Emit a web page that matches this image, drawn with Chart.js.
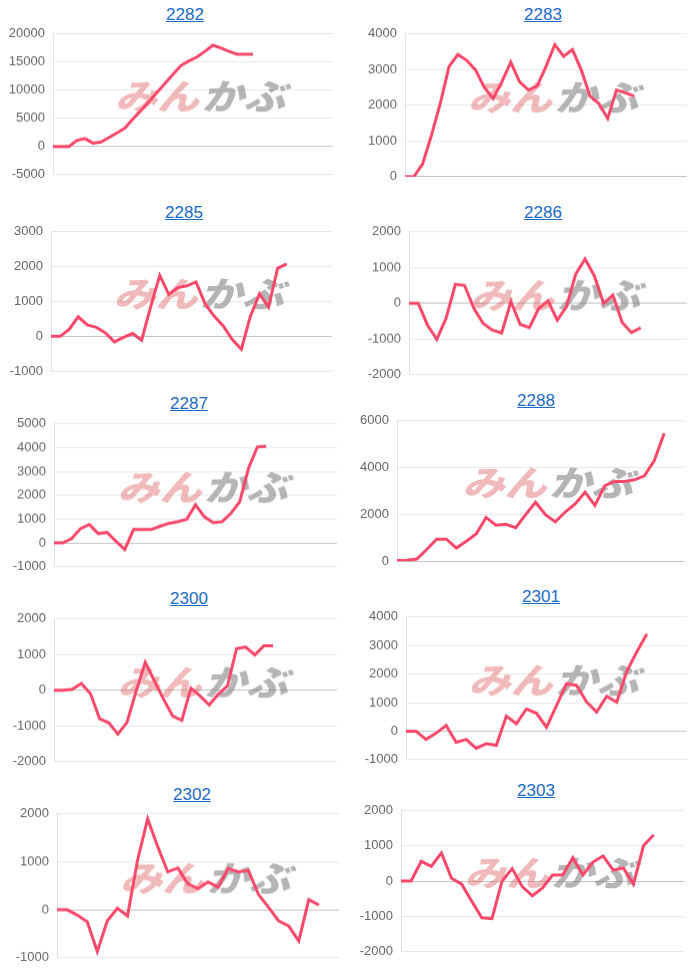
<!DOCTYPE html>
<html>
<head>
<meta charset="utf-8">
<script src="https://cdn.jsdelivr.net/npm/chart.js@4.4.1/dist/chart.umd.min.js"></script>
<style>
  body { margin: 0; background: #fff; width: 700px; height: 971px; position: relative; overflow: hidden;
         font-family: "Liberation Sans", Arial, sans-serif; }
  .title { position: absolute; transform: translate(-50%, -50%); color: #1a6ac9;
           text-decoration: underline; font-size: 17px; white-space: nowrap; }
  canvas { position: absolute; }
</style>
</head>
<body>
<script>
// ---------------- DATA ----------------

const codes = ["2282", "2283", "2285", "2286", "2287", "2288", "2300", "2301", "2302", "2303"];

const s2282 = [0, 0, 0, 1100, 1400, 600, 800, 1600, 2400, 3300, 4900, 6400, 8000, 9600, 11200, 12800, 14400, 15200, 15900, 16900, 18000, 17500, 16900, 16400, 16400, 16400];
const s2283 = [0, 0, 360, 1160, 2050, 3090, 3420, 3260, 2990, 2500, 2190, 2660, 3210, 2660, 2430, 2540, 3090, 3700, 3370, 3560, 2990, 2260, 2050, 1630, 2430, 2350, 2260];
const s2285 = [0, 0, 200, 560, 330, 260, 100, -160, -30, 80, -110, 850, 1750, 1200, 1400, 1450, 1560, 930, 580, 300, -90, -370, 580, 1220, 840, 1950, 2080];
const s2286 = [0, 0, -610, -1010, -420, 535, 500, -140, -560, -750, -830, 50, -590, -680, -140, 70, -470, -90, 820, 1240, 770, 0, 230, -535, -820, -685];
const s2287 = [0, 0, 180, 600, 770, 390, 440, 70, -280, 560, 560, 560, 700, 820, 890, 990, 1600, 1100, 850, 890, 1240, 1730, 3140, 4030, 4060];
const s2288 = [30, 40, 90, 500, 940, 940, 560, 850, 1160, 1870, 1540, 1580, 1430, 1990, 2520, 1990, 1680, 2100, 2450, 2950, 2380, 3230, 3410, 3410, 3480, 3650, 4300, 5470];
const s2300 = [0, 0, 30, 190, -100, -800, -910, -1230, -900, -20, 780, 260, -250, -720, -840, 60, -160, -410, -110, 120, 1170, 1210, 990, 1250, 1250];
const s2301 = [0, 0, -290, -70, 200, -390, -290, -600, -440, -500, 530, 260, 780, 630, 140, 900, 1660, 1600, 1020, 670, 1220, 1020, 2100, 2780, 3400];
const s2302 = [0, 0, -110, -250, -870, -230, 30, -130, 1035, 1900, 1315, 790, 870, 540, 440, 580, 470, 860, 790, 820, 320, 50, -230, -340, -650, 210, 100];
const s2303 = [0, 0, 560, 420, 800, 80, -90, -580, -1050, -1070, 0, 355, -160, -420, -200, 170, 170, 660, 170, 540, 710, 310, 370, -90, 1010, 1310];

const series = [s2282, s2283, s2285, s2286, s2287, s2288, s2300, s2301, s2302, s2303];

// number of day slots on each x axis (x labels are hidden)
const slots = [36, 33, 32, 31, 33, 30, 32, 29, 29, 29];

const yMin  = [-5000, 0, -1000, -2000, -1000, 0, -2000, -1000, -1000, -2000];
const yMax  = [20000, 4000, 3000, 2000, 5000, 6000, 2000, 4000, 2000, 2000];
const yStep = [5000, 1000, 1000, 1000, 1000, 2000, 1000, 1000, 1000, 1000];

// ---------------- LAYOUT ----------------

// plot area: left, right, top, bottom (page px)
const plotBox = [
  [53, 333, 34, 176], [405, 691, 34, 176],
  [51, 332, 232, 374], [409, 689, 232, 374],
  [54, 337, 424, 567], [397, 684, 421, 563],
  [54, 337, 619, 762], [406, 689, 617, 759],
  [57, 339, 814, 957], [401, 684, 811, 954]
];
const titlePos = [
  [185, 15], [543, 15],
  [184, 213], [543, 213],
  [189, 404], [536, 401],
  [189, 599], [541, 597],
  [192, 795], [536, 791]
];

const PAD = 10;
const LINE = "#f9486a";

// ---------------- WATERMARK ----------------

const watermark = {
  id: "wm",
  beforeDatasetsDraw(chart) {
    const { ctx, chartArea: a } = chart;
    const cx = (a.left + a.right) / 2 + 10;
    const cy = (a.top + a.bottom) / 2 - 8;
    ctx.save();
    ctx.translate(cx, cy);
    ctx.transform(1.2, 0, -0.3, 1, 0, 0);
    ctx.font = "900 35px 'Noto Sans CJK JP'";
    ctx.textBaseline = "middle";
    ctx.fillStyle = "rgba(222, 90, 90, 0.42)";
    ctx.textAlign = "right";
    ctx.fillText("みん", 0, 0);
    ctx.fillStyle = "rgba(120, 120, 120, 0.55)";
    ctx.textAlign = "left";
    ctx.fillText("かぶ", 2, 0);
    ctx.restore();
  }
};

// ---------------- CHARTS ----------------

codes.forEach((code, i) => {
  const [L, R, T, B] = plotBox[i];
  const x0 = (i % 2) * 350;

  const t = document.createElement("div");
  t.className = "title";
  t.textContent = code;
  t.style.left = titlePos[i][0] + "px";
  t.style.top = titlePos[i][1] + "px";
  document.body.appendChild(t);

  const cv = document.createElement("canvas");
  const w = R + PAD - x0;
  const h = B - T + 2 * PAD;
  cv.style.left = x0 + "px";
  document.body.appendChild(cv);

  const labels = Array.from({ length: slots[i] }, (_, k) => k + 1);

  const chart = new Chart(cv, {
    type: "line",
    data: {
      labels,
      datasets: [{
        data: series[i],
        borderColor: LINE,
        borderWidth: 3,
        pointRadius: 0,
        tension: 0,
        fill: false
      }]
    },
    options: {
      responsive: false,
      animation: false,
      plugins: { legend: { display: false }, tooltip: { enabled: false } },
      layout: { padding: { top: PAD, bottom: PAD, left: 0, right: PAD } },
      scales: {
        x: { display: false },
        y: {
          min: yMin[i],
          max: yMax[i],
          ticks: {
            stepSize: yStep[i],
            color: "#666",
            padding: 8,
            font: { family: "'Liberation Sans', Arial", size: 13 },
            callback: v => String(v)
          },
          grid: {
            drawTicks: false,
            color: c => (c.tick && c.tick.value === 0 ? "#c4c4c4" : "#e8e8e8")
          },
          border: { display: true, color: "#e2e2e2" },
          afterFit: s => { s.width = L - x0; }
        }
      }
    },
    plugins: [watermark]
  });

  chart.resize(w, h);
  // make the plot height match the picture, then line the canvas up with it
  const a = chart.chartArea;
  const extra = (B - T) - (a.bottom - a.top);
  if (extra) chart.resize(w, h + extra);
  cv.style.top = (T - chart.chartArea.top) + "px";
});
</script>
</body>
</html>
